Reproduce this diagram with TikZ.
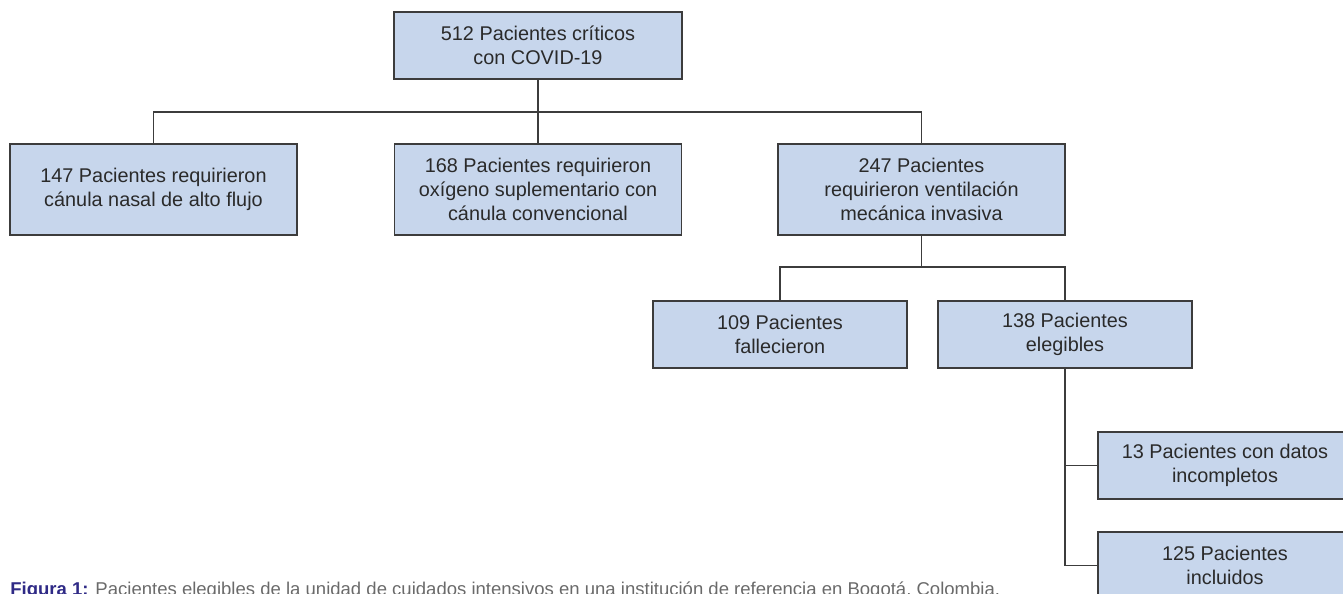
\documentclass[tikz,border=0pt]{standalone}
\usepackage{fontspec}
\setmainfont{Liberation Sans}
\usepackage{xcolor}
\usetikzlibrary{positioning, calc}
\definecolor{boxfill}{HTML}{C7D6EC}
\definecolor{boxline}{HTML}{3C3C3C}
\definecolor{txt}{HTML}{2A2A2A}
\definecolor{capblue}{HTML}{2F2A86}
\definecolor{capgray}{HTML}{6A6A6A}

\begin{document}
\begin{tikzpicture}[
    x=0.02cm, y=-0.02cm,
    box/.style={draw=boxline, fill=boxfill, line width=0.7pt, align=center, text=txt, font=\fontsize{11.3}{13.5}\selectfont, inner sep=0pt},
    rootbox/.style={box, minimum width=5.76cm, minimum height=1.34cm},
    widebox/.style={box, minimum width=5.74cm, minimum height=1.82cm},
    smallbox/.style={box, minimum width=5.08cm, minimum height=1.34cm},
    link/.style={draw=boxline, line width=0.7pt},
  ]
  \useasboundingbox (0,0) rectangle (1343,593);
  \clip (0,0) rectangle (1343,593);
  \node[rootbox] (crit) at (538,45.5) {512 Pacientes críticos\\con COVID-19};
  \node[widebox] (cnaf) at (153.5,189.5) {147 Pacientes requirieron\\cánula nasal de alto flujo};
  \node[widebox] (oxig) at (538,189.5) {168 Pacientes requirieron\\oxígeno suplementario con\\cánula convencional};
  \node[widebox] (vmi) at (921.5,189.5) {247 Pacientes\\requirieron ventilación\\mecánica invasiva};
  \node[smallbox] (fall) at (780,334.5) {109 Pacientes\\fallecieron};
  \node[smallbox] (eleg) at (1065,334.5) {138 Pacientes\\elegibles};
  \node[smallbox] (incomp) at (1225,465.5) {13 Pacientes con datos\\incompletos};
  \node[smallbox] (incl) at (1225,565.5) {125 Pacientes\\incluidos};
  \coordinate (bus1) at (538,112);
  \coordinate (bus2) at (921.5,267);
  \draw[link] (crit) -- (oxig);
  \draw[link] (cnaf.north) |- (bus1) -| (vmi.north);
  \draw[link] (vmi) -- (bus2);
  \draw[link] (fall.north) |- (bus2) -| (eleg.north);
  \draw[link] (eleg.south) |- (incomp.west);
  \draw[link] (eleg.south) |- (incl.west);
  \node[anchor=base west, inner sep=0pt, font=\fontsize{10.55}{12}\selectfont] (caption) at (10,595)
    {\textcolor{capblue}{\textbf{Figura 1:}} \textcolor{capgray}{Pacientes elegibles de la unidad de cuidados intensivos en una institución de referencia en Bogotá, Colombia.}};
\end{tikzpicture}
\end{document}
